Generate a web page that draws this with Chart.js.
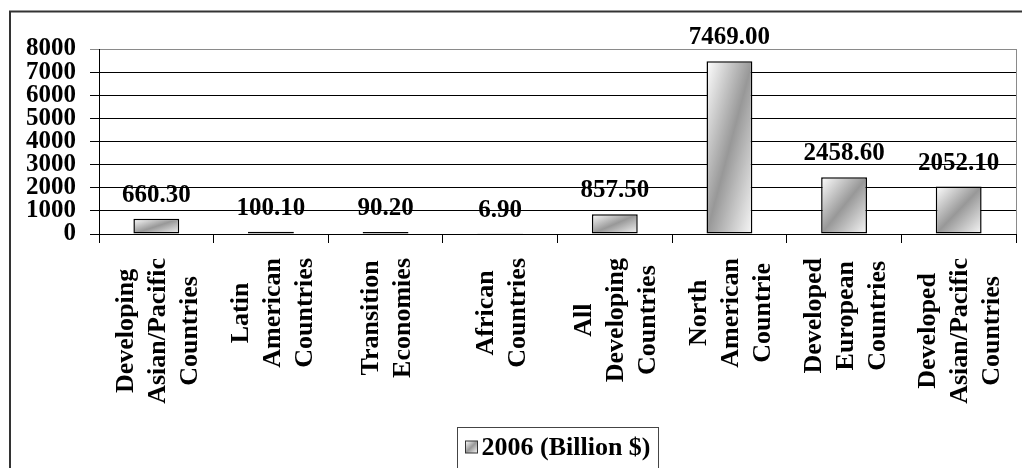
<!DOCTYPE html>
<html>
<head>
<meta charset="utf-8">
<script src="https://cdn.jsdelivr.net/npm/chart.js@4/dist/chart.umd.min.js"></script>
<style>
  html, body { margin: 0; padding: 0; background: #ffffff; }
  canvas { display: block; }
</style>
</head>
<body>
<canvas id="c" width="1022" height="468"></canvas>
<script>
// Category labels, one entry per line of the wrapped label
const categories = [
  ['Developing', 'Asian/Pacific', 'Countries'],
  ['Latin', 'American', 'Countries'],
  ['Transition', 'Economies'],
  ['African', 'Countries'],
  ['All', 'Developing', 'Countries'],
  ['North', 'American', 'Countrie'],
  ['Developed', 'European', 'Countries'],
  ['Developed', 'Asian/Pacific', 'Countries']
];
const values2006 = [660.30, 100.10, 90.20, 6.90, 857.50, 7469.00, 2458.60, 2052.10];
const seriesLabel = '2006 (Billion $)';
const yTicks = [0, 1000, 2000, 3000, 4000, 5000, 6000, 7000, 8000];

const SERIF = '"Liberation Serif", "Times New Roman", serif';

// Diagonal metallic fill: light corners, dark band along the anti-diagonal
function diagonalGradient(ctx, left, top, w, h) {
  w = Math.max(w, 1); h = Math.max(h, 1);
  const t = 1 / (1 / (w * w) + 1 / (h * h));
  const g = ctx.createLinearGradient(left, top, left + 2 * t / w, top + 2 * t / h);
  g.addColorStop(0, '#ffffff');
  g.addColorStop(0.5, '#989898');
  g.addColorStop(1, '#f8f8f8');
  return g;
}

function barFill(context) {
  const chart = context.chart;
  const xs = chart.scales.x, ys = chart.scales.y;
  if (!xs || !ys || !chart.chartArea) return '#a0a0a0';
  const i = context.dataIndex;
  const v = values2006[i];
  const cw = xs.getPixelForValue(1) - xs.getPixelForValue(0);
  const w = cw * 0.4;
  const cx = xs.getPixelForValue(i);
  const top = ys.getPixelForValue(v);
  const bottom = ys.getPixelForValue(0);
  return diagonalGradient(chart.ctx, cx - w / 2, top, w, bottom - top);
}

// Outer frame of the chart object and white background
const framePlugin = {
  id: 'frame',
  beforeDraw(chart) {
    const c = chart.ctx;
    c.save();
    c.fillStyle = '#ffffff';
    c.fillRect(0, 0, chart.width, chart.height);
    c.strokeStyle = '#333333';
    c.lineWidth = 2;
    c.strokeRect(10, 11.5, chart.width + 20, chart.height + 20);
    c.restore();
  },
  afterDraw(chart) {
    // grey right edge of the plot area
    const c = chart.ctx, a = chart.chartArea;
    c.save();
    c.strokeStyle = '#8a8a8a';
    c.lineWidth = 1;
    c.beginPath();
    c.moveTo(Math.round(a.right) + 0.5, a.top);
    c.lineTo(Math.round(a.right) + 0.5, a.bottom);
    c.stroke();
    c.restore();
  }
};

// Value labels above each bar
const valueLabelPlugin = {
  id: 'valueLabels',
  afterDatasetsDraw(chart) {
    const c = chart.ctx;
    const meta = chart.getDatasetMeta(0);
    c.save();
    c.font = 'bold 25px ' + SERIF;
    c.fillStyle = '#000000';
    c.textAlign = 'center';
    c.textBaseline = 'alphabetic';
    meta.data.forEach((bar, i) => {
      c.fillText(values2006[i].toFixed(2), bar.x, bar.y - 17);
    });
    c.restore();
  }
};

// Vertical multi-line category labels, lines centred within the block
const categoryLabelPlugin = {
  id: 'categoryLabels',
  afterDraw(chart) {
    const c = chart.ctx;
    const xs = chart.scales.x;
    const fs = 26, lineGap = 32;
    const blockTop = chart.chartArea.bottom + 24;
    c.save();
    c.font = 'bold ' + fs + 'px ' + SERIF;
    c.fillStyle = '#000000';
    c.textAlign = 'center';
    c.textBaseline = 'alphabetic';
    categories.forEach((lines, i) => {
      const cx = xs.getPixelForValue(i);
      const maxW = Math.max(...lines.map(s => c.measureText(s).width));
      const n = lines.length;
      c.save();
      c.translate(cx, 0);
      c.rotate(-Math.PI / 2);
      lines.forEach((s, k) => {
        const ty = (k - (n - 1) / 2) * lineGap + 0.33 * fs;
        c.fillText(s, -(blockTop + maxW / 2), ty);
      });
      c.restore();
    });
    c.restore();
  }
};

// Boxed legend below the category labels
const legendBoxPlugin = {
  id: 'legendBox',
  afterDraw(chart) {
    const c = chart.ctx, a = chart.chartArea;
    c.save();
    c.font = 'bold 26px ' + SERIF;
    const tw = c.measureText(seriesLabel).width;
    const boxW = 8 + 12 + 4 + tw + 8;
    const left = Math.round((a.left + a.right) / 2 - boxW / 2) + 0.5;
    const top = 427.5;
    c.strokeStyle = '#444444';
    c.lineWidth = 1;
    c.strokeRect(left, top, boxW, 60);
    const mx = left + 8, my = top + 13.5;
    c.fillStyle = diagonalGradient(c, mx, my, 12, 12);
    c.fillRect(mx, my, 12, 12);
    c.strokeStyle = '#333333';
    c.strokeRect(mx, my, 12, 12);
    c.fillStyle = '#000000';
    c.textAlign = 'left';
    c.textBaseline = 'alphabetic';
    c.fillText(seriesLabel, mx + 16, top + 27);
    c.restore();
  }
};

new Chart(document.getElementById('c'), {
  type: 'bar',
  data: {
    labels: categories.map(l => l.join(' ')),
    datasets: [{
      label: seriesLabel,
      data: values2006,
      backgroundColor: barFill,
      borderColor: '#000000',
      borderWidth: 1.5,
      borderSkipped: false,
      barPercentage: 0.5,
      categoryPercentage: 0.8
    }]
  },
  options: {
    responsive: false,
    animation: false,
    devicePixelRatio: 1,
    layout: { padding: { left: 0, top: 49, right: 6, bottom: 0 } },
    plugins: {
      legend: { display: false },
      tooltip: { enabled: false },
      title: { display: false }
    },
    scales: {
      x: {
        offset: true,
        grid: {
          display: true,
          offset: true,
          drawOnChartArea: false,
          drawTicks: true,
          tickLength: 9,
          color: '#000000',
          lineWidth: 1
        },
        border: { display: true, color: '#000000', width: 1 },
        ticks: { display: false },
        afterFit(scale) { scale.height = 234; }
      },
      y: {
        min: 0,
        max: 8000,
        afterBuildTicks(scale) { scale.ticks = yTicks.map(v => ({ value: v })); },
        grid: {
          color: ctx => (ctx.tick && ctx.tick.value === 8000 ? '#8a8a8a' : '#000000'),
          lineWidth: 1,
          drawTicks: true,
          tickLength: 9
        },
        border: { display: true, color: '#000000', width: 1 },
        ticks: {
          autoSkip: false,
          padding: 14,
          color: '#000000',
          font: { family: SERIF, size: 25, weight: 'bold' },
          callback: v => String(v)
        },
        afterFit(scale) { scale.width = 99; }
      }
    }
  },
  plugins: [framePlugin, valueLabelPlugin, categoryLabelPlugin, legendBoxPlugin]
});
</script>
</body>
</html>
